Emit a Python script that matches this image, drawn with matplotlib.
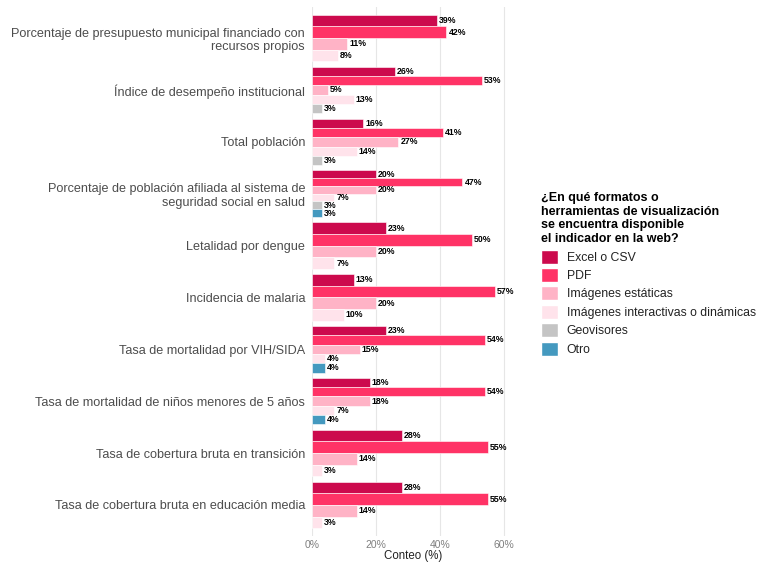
import matplotlib
matplotlib.use("Agg")
import matplotlib.pyplot as plt
import numpy as np
from matplotlib.patches import Patch

plt.rcParams['font.family'] = ['Liberation Sans', 'DejaVu Sans']

categories = [
    "Porcentaje de presupuesto municipal financiado con\nrecursos propios",
    "Índice de desempeño institucional",
    "Total población",
    "Porcentaje de población afiliada al sistema de\nseguridad social en salud",
    "Letalidad por dengue",
    "Incidencia de malaria",
    "Tasa de mortalidad por VIH/SIDA",
    "Tasa de mortalidad de niños menores de 5 años",
    "Tasa de cobertura bruta en transición",
    "Tasa de cobertura bruta en educación media",
]
series_names = ["Excel o CSV", "PDF", "Imágenes estáticas",
                "Imágenes interactivas o dinámicas", "Geovisores", "Otro"]
excel = [39, 26, 16, 20, 23, 13, 23, 18, 28, 28]
pdf = [42, 53, 41, 47, 50, 57, 54, 54, 55, 55]
img_est = [11, 5, 27, 20, 20, 20, 15, 18, 14, 14]
img_int = [8, 13, 14, 7, 7, 10, 4, 7, 3, 3]
geovisores = [0, 3, 3, 3, 0, 0, 0, 0, 0, 0]
otro = [0, 0, 0, 3, 0, 0, 4, 4, 0, 0]
series = [excel, pdf, img_est, img_int, geovisores, otro]
colors = ["#CC0A4D", "#FF3366", "#FFB3C6", "#FFE3EB", "#C4C4C4", "#4499BF"]

fig = plt.figure(figsize=(7.58, 5.62), dpi=100)
ax = fig.add_axes([312/758, 1-536/562, (515-312)/758, (536-7)/562])

group_w = 0.9
for i, cat in enumerate(categories):
    present = [(k, s[i]) for k, s in enumerate(series) if s[i] > 0]
    n = len(present)
    bw = group_w / n
    top = i - group_w / 2
    for j, (k, v) in enumerate(present):
        yc = top + bw * (j + 0.5)
        ax.barh(yc, v, height=bw, color=colors[k], edgecolor="white",
                linewidth=0.4, zorder=2)
        ax.text(v + 0.6, yc, f"{v}%", va="center", ha="left",
                fontsize=6.3, fontweight="bold", color="black", zorder=3)

ax.set_ylim(len(categories) - 1 + 0.6, -0.6)
ax.set_xlim(0, 63.4)
ax.set_yticks(range(len(categories)))
ax.set_yticklabels(categories, fontsize=9.1, color="#4D4D4D")
ax.set_xticks([0, 20, 40, 60])
ax.set_xticklabels(["0%", "20%", "40%", "60%"], fontsize=7.5, color="#7F7F7F")
ax.tick_params(length=0, pad=5)
ax.tick_params(axis='x', pad=3)
ax.set_xlabel("Conteo (%)", fontsize=8.3, color="#222222", labelpad=0)
ax.grid(axis='x', color="#E6E6E6", linewidth=0.8, zorder=0)
ax.set_axisbelow(True)
for s in ax.spines.values():
    s.set_visible(False)

handles = [Patch(facecolor=c, edgecolor="white", label=n) for c, n in zip(colors, series_names)]
leg = fig.legend(handles=handles, loc="upper left", bbox_to_anchor=(536/758, 1-187/562),
                 frameon=False, fontsize=8.8, handlelength=1.4, handleheight=1.4,
                 handletextpad=0.7, labelspacing=0.35, borderaxespad=0,
                 title="¿En qué formatos o\nherramientas de visualización\nse encuentra disponible\nel indicador en la web?",
                 title_fontproperties={'weight': 'bold', 'size': 9.0})
leg._legend_box.align = "left"
for t in leg.get_texts():
    t.set_color("#222222")

fig.savefig("out.png", dpi=100)
